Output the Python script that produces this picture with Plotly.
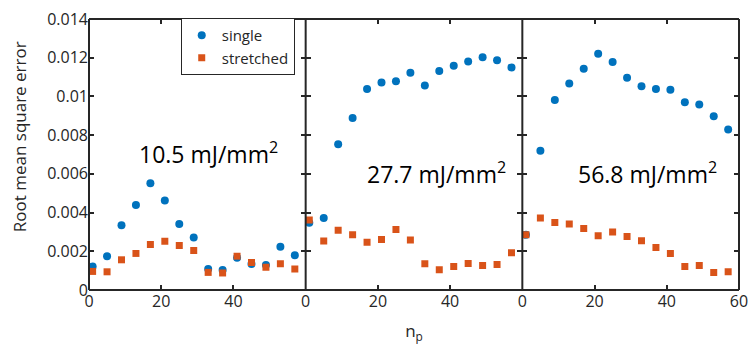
import plotly.graph_objects as go
from plotly.subplots import make_subplots

n_p = [1, 5, 9, 13, 17, 21, 25, 29, 33, 37, 41, 45, 49, 53, 57]

single_10 = [0.00121, 0.00174, 0.00334, 0.00439, 0.00551, 0.00462, 0.00341, 0.00271,
             0.00109, 0.00103, 0.00167, 0.00134, 0.00129, 0.00223, 0.00180]
stretched_10 = [0.00096, 0.00094, 0.00156, 0.00189, 0.00235, 0.00252, 0.00230, 0.00204,
                0.00091, 0.00088, 0.00175, 0.00142, 0.00117, 0.00136, 0.00108]

single_27 = [0.00348, 0.00372, 0.00753, 0.00889, 0.01039, 0.01072, 0.01079, 0.01122,
             0.01056, 0.01132, 0.01158, 0.01180, 0.01203, 0.01187, 0.01150]
stretched_27 = [0.00361, 0.00253, 0.00309, 0.00285, 0.00247, 0.00261, 0.00313, 0.00258,
                0.00136, 0.00104, 0.00122, 0.00137, 0.00127, 0.00132, 0.00192]

single_56 = [0.00285, 0.00720, 0.00981, 0.01067, 0.01143, 0.01221, 0.01178, 0.01097,
             0.01052, 0.01038, 0.01034, 0.00970, 0.00958, 0.00897, 0.00829]
stretched_56 = [0.00285, 0.00372, 0.00349, 0.00341, 0.00318, 0.00280, 0.00300, 0.00276,
                0.00255, 0.00220, 0.00189, 0.00122, 0.00126, 0.00091, 0.00094]

panel_labels = ["10.5 mJ/mm<sup>2</sup>", "27.7 mJ/mm<sup>2</sup>", "56.8 mJ/mm<sup>2</sup>"]
label_pos = [(33.0, 0.0071), (36.1, 0.00606), (34.6, 0.00606)]

BLUE = "#0072BD"
ORANGE = "#D95319"
AX = "#262626"
FONT = "Open Sans"

fig = make_subplots(rows=1, cols=3, shared_yaxes=True, horizontal_spacing=0)

series = [(single_10, stretched_10), (single_27, stretched_27), (single_56, stretched_56)]
for i, (s, st) in enumerate(series):
    col = i + 1
    fig.add_trace(go.Scatter(x=n_p, y=s, mode="markers", name="single",
                             marker=dict(symbol="circle", size=8, color=BLUE),
                             showlegend=(i == 0)), row=1, col=col)
    fig.add_trace(go.Scatter(x=n_p, y=st, mode="markers", name="stretched",
                             marker=dict(symbol="square", size=7, color=ORANGE),
                             showlegend=(i == 0)), row=1, col=col)
    xt = [0, 20, 40] if i < 2 else [0, 20, 40, 60]
    fig.update_xaxes(range=[0, 60], tickvals=xt, ticktext=[str(v) for v in xt],
                     ticks="inside", ticklen=5, tickwidth=1.5, tickcolor=AX,
                     showline=False, mirror="allticks",
                     showgrid=False, zeroline=False, ticklabeloverflow="allow",
                     tickfont=dict(family=FONT, size=16, color=AX), row=1, col=col)
    fig.update_yaxes(range=[0, 0.014], tick0=0, dtick=0.002, tickformat="~g",
                     ticks="inside", ticklen=5, tickwidth=1.5, tickcolor=AX,
                     showline=False, mirror="allticks",
                     showgrid=False, zeroline=False, showticklabels=(i == 0),
                     ticklabeloverflow="allow",
                     tickfont=dict(family=FONT, size=16, color=AX), row=1, col=col)
    xr = "x" if i == 0 else f"x{col}"
    yr = "y" if i == 0 else f"y{col}"
    fig.add_annotation(x=label_pos[i][0], y=label_pos[i][1], xref=xr, yref=yr,
                       text=panel_labels[i], showarrow=False,
                       font=dict(family=FONT, size=23, color="#000000"),
                       xanchor="center", yanchor="middle")

# panel frames (paper coordinates, not clipped)
for x0, y0, x1, y1 in [(0, 0, 1, 0), (0, 1, 1, 1), (0, 0, 0, 1), (1, 0, 1, 1),
                       (1 / 3, 0, 1 / 3, 1), (2 / 3, 0, 2 / 3, 1)]:
    fig.add_shape(type="line", xref="paper", yref="paper", x0=x0, y0=y0, x1=x1, y1=y1,
                  line=dict(color=AX, width=2), layer="above")

fig.update_xaxes(title=dict(text="n<sub>p</sub>", font=dict(family=FONT, size=17, color=AX),
                            standoff=14), row=1, col=2)

fig.add_annotation(x=(18 - 89) / 659, y=(290 - 130) / 282, xref="paper", yref="paper",
                   text="Root mean square error", showarrow=False, textangle=-90,
                   font=dict(family=FONT, size=17, color=AX),
                   xanchor="center", yanchor="middle")

fig.update_layout(
    width=756, height=355,
    margin=dict(l=89, r=8, t=8, b=65),
    plot_bgcolor="white",
    legend=dict(x=(182 - 89) / 659, y=(290 - 7) / 282, xanchor="left", yanchor="top",
                bgcolor="white", bordercolor=AX, borderwidth=1,
                font=dict(family=FONT, size=15, color=AX),
                tracegroupgap=0, itemwidth=30),
)

fig.write_html("out.html")
